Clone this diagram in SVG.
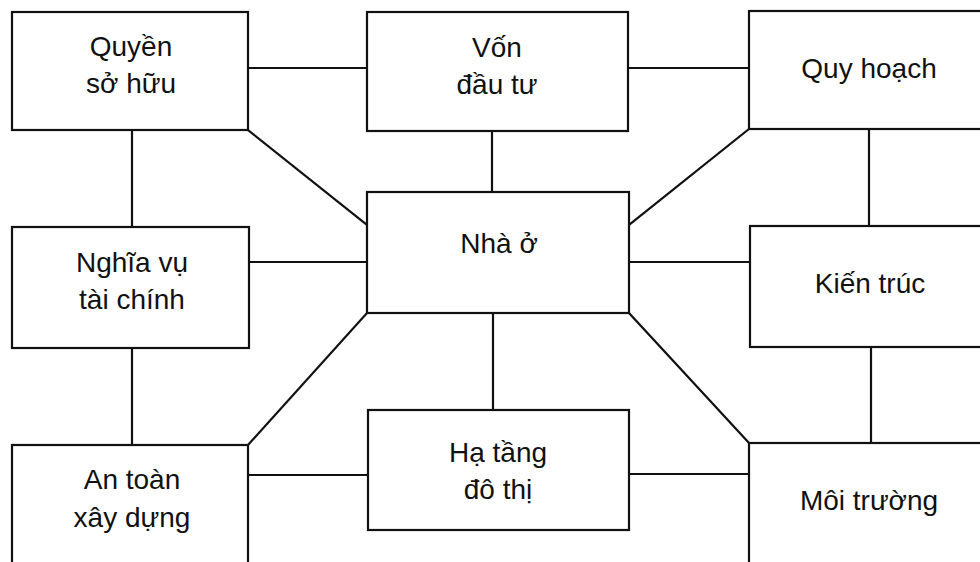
<svg xmlns="http://www.w3.org/2000/svg" width="980" height="562" viewBox="0 0 980 562">
  <style>
    .box { fill: #ffffff; stroke: #111111; stroke-width: 2.2; }
    .link { fill: none; stroke: #111111; stroke-width: 2.2; stroke-linecap: square; }
    .lbl { font-family: "Liberation Sans", Arial, sans-serif; font-size: 28px; fill: #111111; text-anchor: middle; }
  </style>
  <rect width="980" height="562" fill="#ffffff"/>

  <g id="connectors">
    <line class="link" x1="248" y1="68" x2="367" y2="68"/>
    <line class="link" x1="628" y1="68" x2="749" y2="68"/>
    <line class="link" x1="132" y1="130" x2="132" y2="227"/>
    <line class="link" x1="248" y1="130" x2="367" y2="225"/>
    <line class="link" x1="492" y1="131" x2="492" y2="192"/>
    <line class="link" x1="749" y1="129" x2="629" y2="225"/>
    <line class="link" x1="869" y1="129" x2="869" y2="226"/>
    <line class="link" x1="249" y1="262" x2="367" y2="262"/>
    <line class="link" x1="629" y1="262" x2="750" y2="262"/>
    <line class="link" x1="367" y1="313" x2="248" y2="445"/>
    <line class="link" x1="629" y1="313" x2="749" y2="443"/>
    <line class="link" x1="493" y1="313" x2="493" y2="410"/>
    <line class="link" x1="132" y1="348" x2="132" y2="445"/>
    <line class="link" x1="871" y1="347" x2="871" y2="443"/>
    <line class="link" x1="248" y1="475" x2="368" y2="475"/>
    <line class="link" x1="629" y1="474" x2="749" y2="474"/>
  </g>

  <g id="quyen-so-huu">
    <rect class="box" x="12" y="12" width="236" height="118"/>
    <text class="lbl" x="131" y="56">Quyền</text>
    <text class="lbl" x="131" y="93">sở hữu</text>
  </g>

  <g id="von-dau-tu">
    <rect class="box" x="367" y="12" width="261" height="119"/>
    <text class="lbl" x="497" y="57">Vốn</text>
    <text class="lbl" x="497" y="94">đầu tư</text>
  </g>

  <g id="quy-hoach">
    <rect class="box" x="749" y="11" width="240" height="118"/>
    <text class="lbl" x="869" y="78">Quy hoạch</text>
  </g>

  <g id="nghia-vu-tai-chinh">
    <rect class="box" x="12" y="227" width="237" height="121"/>
    <text class="lbl" x="132" y="272">Nghĩa vụ</text>
    <text class="lbl" x="132" y="309">tài chính</text>
  </g>

  <g id="nha-o">
    <rect class="box" x="367" y="192" width="262" height="121"/>
    <text class="lbl" x="499" y="253">Nhà ở</text>
  </g>

  <g id="kien-truc">
    <rect class="box" x="750" y="226" width="240" height="121"/>
    <text class="lbl" x="870" y="293">Kiến trúc</text>
  </g>

  <g id="an-toan-xay-dung">
    <rect class="box" x="12" y="445" width="236" height="130"/>
    <text class="lbl" x="132" y="489">An toàn</text>
    <text class="lbl" x="132" y="527">xây dựng</text>
  </g>

  <g id="ha-tang-do-thi">
    <rect class="box" x="368" y="410" width="261" height="120"/>
    <text class="lbl" x="498" y="462">Hạ tầng</text>
    <text class="lbl" x="498" y="499">đô thị</text>
  </g>

  <g id="moi-truong">
    <rect class="box" x="749" y="443" width="241" height="130"/>
    <text class="lbl" x="869" y="510">Môi trường</text>
  </g>
</svg>
